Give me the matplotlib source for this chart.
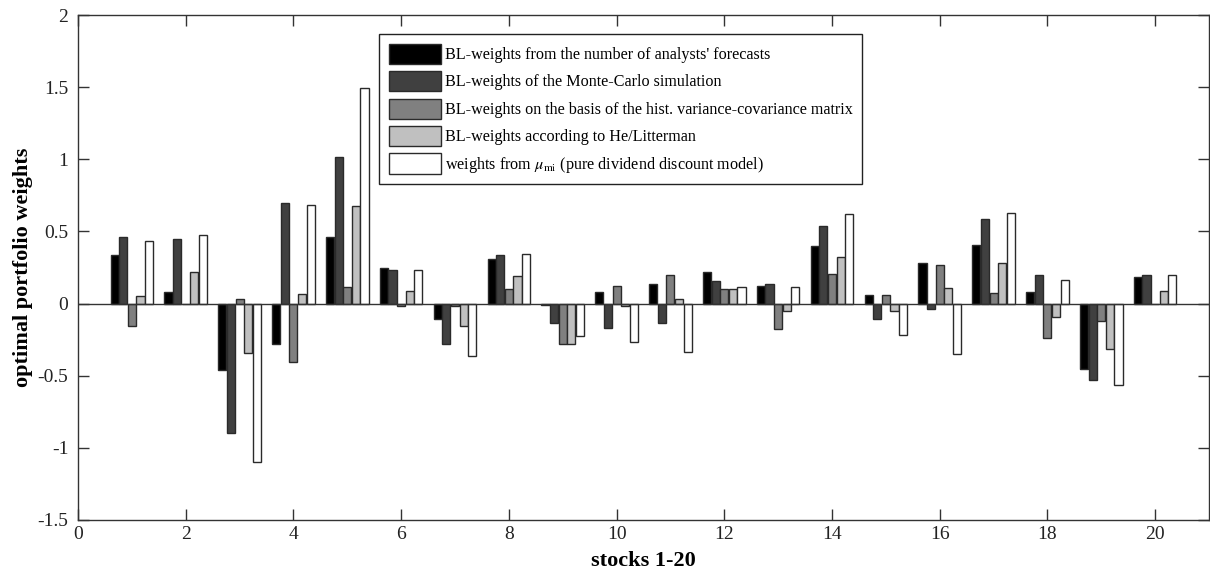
import matplotlib
matplotlib.use("Agg")
import matplotlib.pyplot as plt
import numpy as np

plt.rcParams['font.family'] = ['Liberation Serif', 'DejaVu Serif']
plt.rcParams['mathtext.fontset'] = 'stix'

stocks = np.arange(1, 21)

# optimal portfolio weights per stock
w_analysts = [0.34, 0.08, -0.46, -0.28, 0.46, 0.245, -0.11, 0.31, -0.012, 0.083,
              0.137, 0.22, 0.12, 0.40, 0.058, 0.28, 0.405, 0.083, -0.45, 0.183]
w_montecarlo = [0.46, 0.45, -0.895, 0.70, 1.015, 0.234, -0.278, 0.336, -0.137, -0.171,
                -0.137, 0.157, 0.134, 0.54, -0.109, -0.039, 0.583, 0.197, -0.532, 0.197]
w_histcov = [-0.153, 0.0, 0.03, -0.405, 0.116, -0.02, -0.016, 0.10, -0.278, 0.125,
             0.199, 0.10, -0.178, 0.206, 0.056, 0.268, 0.072, -0.236, -0.118, 0.0]
w_helitterman = [0.055, 0.217, -0.34, 0.065, 0.674, 0.09, -0.153, 0.188, -0.278, -0.016,
                 0.03, 0.10, -0.053, 0.32, -0.053, 0.109, 0.278, -0.09, -0.315, 0.09]
w_ddm = [0.435, 0.477, -1.10, 0.68, 1.495, 0.234, -0.361, 0.343, -0.227, -0.269,
         -0.333, 0.118, 0.118, 0.62, -0.218, -0.352, 0.63, 0.162, -0.567, 0.197]

series = [w_analysts, w_montecarlo, w_histcov, w_helitterman, w_ddm]
labels = ["BL-weights from the number of analysts' forecasts",
          "BL-weights of the Monte-Carlo simulation",
          "BL-weights on the basis of the hist. variance-covariance matrix",
          "BL-weights according to He/Litterman",
          r"weights from $\mu_{\mathrm{mi}}$ (pure dividend discount model)"]
colors = ['#000000', '#404040', '#808080', '#c0c0c0', '#ffffff']

fig = plt.figure(figsize=(12.1, 5.73), dpi=100)
ax = fig.add_axes([78/1210, 1 - 520/573, 1131/1210, 505/573])

slot = 0.16
for i, (vals, lab, col) in enumerate(zip(series, labels, colors)):
    ax.bar(stocks + (i - 2) * slot, vals, width=0.15, color=col,
           edgecolor='#2a2a2a', linewidth=1.0, label=lab, zorder=3)

ax.axhline(0, color='#333333', linewidth=1.0, zorder=4)

ax.set_xlim(0, 21)
ax.set_ylim(-1.5, 2)
ax.set_xticks(np.arange(0, 21, 2))
ax.set_yticks(np.arange(-1.5, 2.01, 0.5))
ax.set_yticklabels(['-1.5', '-1', '-0.5', '0', '0.5', '1', '1.5', '2'])
ax.tick_params(direction='in', length=8, width=1, top=True, right=True,
               labelsize=14, colors='#333333', labelcolor='#222222')
ax.tick_params(axis='y', pad=7)
ax.tick_params(axis='x', pad=4)
for s in ax.spines.values():
    s.set_color('#333333')
    s.set_linewidth(1.0)

ax.set_xlabel('stocks 1-20', fontsize=16, fontweight='bold')
ax.set_ylabel('optimal portfolio weights', fontsize=16, fontweight='bold')
ax.xaxis.set_label_coords(0.5, -0.062)
ax.yaxis.set_label_coords(-0.040, 0.5)

leg = ax.legend(loc='upper left', bbox_to_anchor=(0.266, 0.9624), fontsize=11.6,
                handlelength=3.25, handleheight=1.55, labelspacing=0.45,
                handletextpad=0.25, borderpad=0.6, borderaxespad=0,
                fancybox=False, framealpha=1, edgecolor='#222222')
leg.get_frame().set_linewidth(1.0)

fig.savefig('out.png', dpi=100)
